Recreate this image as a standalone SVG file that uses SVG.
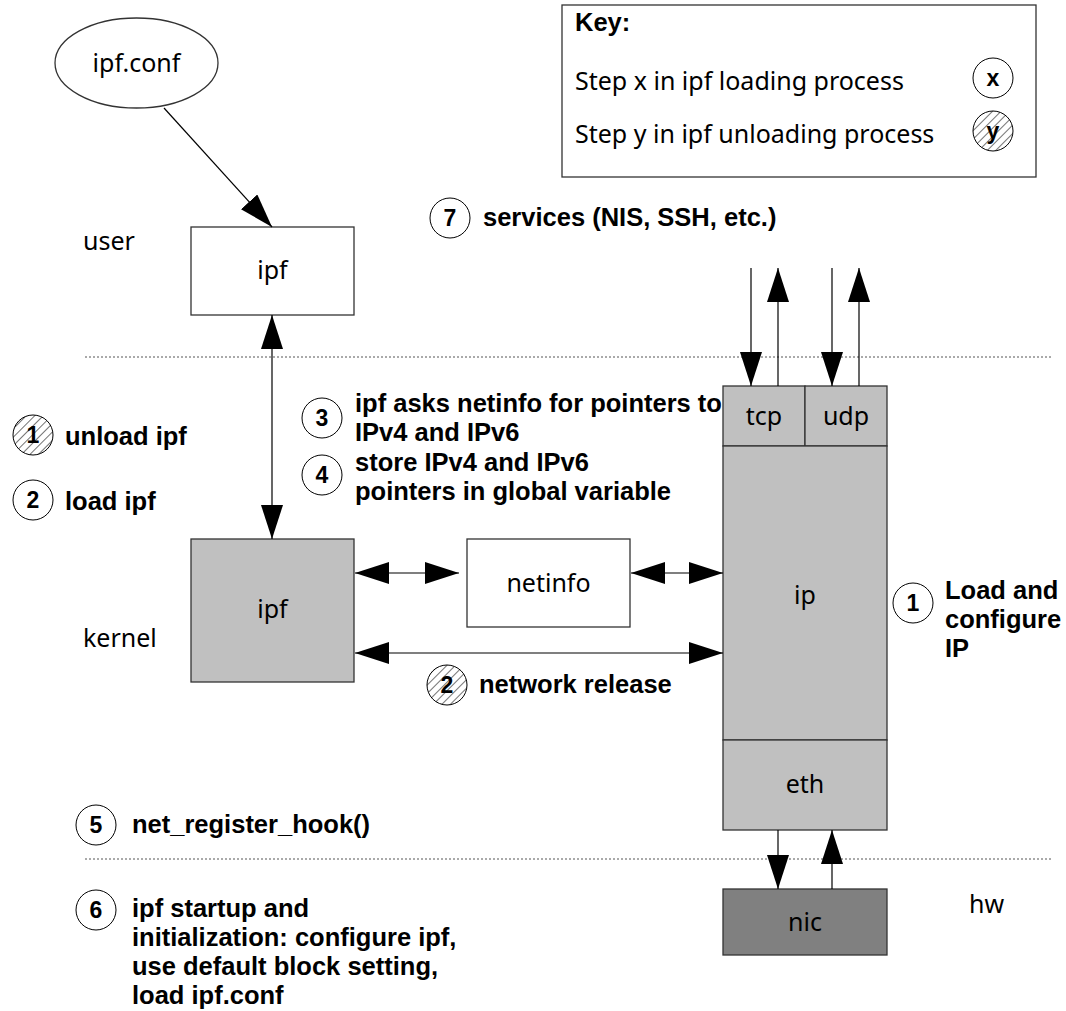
<svg xmlns="http://www.w3.org/2000/svg" width="1066" height="1011" viewBox="0 0 1066 1011">
  <style>
    text { font-family: "Noto Sans", "Open Sans", "DejaVu Sans", sans-serif; fill: #000; }
    .lbl { font-size: 25px; }
    .step { font-family: "Liberation Sans", Arial, sans-serif; font-size: 25.5px; font-weight: bold; }
    .num { font-family: "Liberation Sans", Arial, sans-serif; font-size: 23px; font-weight: bold; text-anchor: middle; }
    .mid { text-anchor: middle; }
    .box { fill: #fff; stroke: #333; stroke-width: 1.3; }
    .grey { fill: #c0c0c0; stroke: #333; stroke-width: 1.3; }
    .dark { fill: #808080; stroke: #333; stroke-width: 1.3; }
    .ring { fill: #fff; stroke: #000; stroke-width: 1; }
    .hatch { fill: url(#hatch); stroke: #000; stroke-width: 1; }
    .conn { stroke: #000; stroke-width: 1.2; fill: none; }
    .sep { stroke: #555; stroke-width: 1; stroke-dasharray: 2 2; }
  </style>
  <defs>
    <marker id="arrow" markerUnits="userSpaceOnUse" markerWidth="34" markerHeight="22" refX="34" refY="11" orient="auto-start-reverse">
      <path d="M0,0 L34,11 L0,22 z" fill="#000"/>
    </marker>
    <pattern id="hatch" patternUnits="userSpaceOnUse" width="6" height="6" patternTransform="rotate(45)">
      <rect width="6" height="6" fill="#fff"/>
      <line x1="0" y1="0" x2="0" y2="6" stroke="#000" stroke-width="1.1"/>
    </pattern>
  </defs>

  <!-- layer separators -->
  <g id="separators">
    <line class="sep" x1="85" y1="357" x2="1052" y2="357"/>
    <line class="sep" x1="85" y1="859" x2="1052" y2="859"/>
  </g>

  <!-- layer labels -->
  <g id="layers">
    <text class="lbl" x="83" y="250">user</text>
    <text class="lbl" x="83" y="647">kernel</text>
    <text class="lbl" x="969" y="913">hw</text>
  </g>

  <!-- legend -->
  <g id="key">
    <rect class="box" x="562" y="5" width="474" height="172"/>
    <text class="step" x="575" y="31">Key:</text>
    <text class="lbl" x="575" y="90">Step x in ipf loading process</text>
    <circle class="ring" cx="993" cy="78" r="20"/>
    <text class="num" x="993" y="86">x</text>
    <text class="lbl" x="575" y="143">Step y in ipf unloading process</text>
    <circle class="hatch" cx="993" cy="131" r="20"/>
    <text class="num" x="993" y="139">y</text>
  </g>

  <g id="ipf-conf">
    <ellipse class="box" cx="136.5" cy="63" rx="81.5" ry="45"/>
    <text class="lbl mid" x="136.5" y="72">ipf.conf</text>
  </g>

  <g id="ipf-user">
    <rect class="box" x="191" y="227" width="163" height="88"/>
    <text class="lbl mid" x="272.5" y="279">ipf</text>
  </g>

  <g id="ipf-kernel">
    <rect class="grey" x="191" y="539" width="163" height="143"/>
    <text class="lbl mid" x="272.5" y="618">ipf</text>
  </g>

  <g id="netinfo">
    <rect class="box" x="467" y="539" width="163" height="88"/>
    <text class="lbl mid" x="548.5" y="592">netinfo</text>
  </g>

  <g id="stack">
    <rect class="grey" x="723" y="386" width="82" height="60"/>
    <text class="lbl mid" x="764" y="425">tcp</text>
    <rect class="grey" x="805" y="386" width="82" height="60"/>
    <text class="lbl mid" x="846" y="425">udp</text>
    <rect class="grey" x="723" y="446" width="164" height="294"/>
    <text class="lbl mid" x="805" y="604">ip</text>
    <rect class="grey" x="723" y="740" width="164" height="90"/>
    <text class="lbl mid" x="805" y="793">eth</text>
  </g>

  <g id="nic">
    <rect class="dark" x="723" y="889" width="164" height="66"/>
    <text class="lbl mid" x="805" y="931">nic</text>
  </g>

  <!-- connectors -->
  <g id="connectors">
    <line class="conn" x1="164" y1="108" x2="272" y2="227" marker-end="url(#arrow)"/>
    <line class="conn" x1="272" y1="315" x2="272" y2="539" marker-start="url(#arrow)" marker-end="url(#arrow)"/>
    <line class="conn" x1="355" y1="573" x2="459" y2="573" marker-start="url(#arrow)" marker-end="url(#arrow)"/>
    <line class="conn" x1="631" y1="573" x2="723" y2="573" marker-start="url(#arrow)" marker-end="url(#arrow)"/>
    <line class="conn" x1="355" y1="653" x2="723" y2="653" marker-start="url(#arrow)" marker-end="url(#arrow)"/>
    <line class="conn" x1="751" y1="268" x2="751" y2="386" marker-end="url(#arrow)"/>
    <line class="conn" x1="778" y1="386" x2="778" y2="268" marker-end="url(#arrow)"/>
    <line class="conn" x1="832" y1="268" x2="832" y2="386" marker-end="url(#arrow)"/>
    <line class="conn" x1="859" y1="386" x2="859" y2="268" marker-end="url(#arrow)"/>
    <line class="conn" x1="778" y1="830" x2="778" y2="889" marker-end="url(#arrow)"/>
    <line class="conn" x1="832" y1="889" x2="832" y2="830" marker-end="url(#arrow)"/>
  </g>

  <!-- step annotations -->
  <g id="step-unload-1">
    <circle class="hatch" cx="33" cy="435" r="20"/>
    <text class="num" x="33" y="443">1</text>
    <text class="step" x="65" y="445">unload ipf</text>
  </g>
  <g id="step-2">
    <circle class="ring" cx="33" cy="500" r="20"/>
    <text class="num" x="33" y="508">2</text>
    <text class="step" x="65" y="510">load ipf</text>
  </g>
  <g id="step-3">
    <circle class="ring" cx="322" cy="418" r="20"/>
    <text class="num" x="322" y="426">3</text>
    <text class="step" x="355" y="412">ipf asks netinfo for pointers to<tspan x="355" dy="29">IPv4 and IPv6</tspan></text>
  </g>
  <g id="step-4">
    <circle class="ring" cx="322" cy="475" r="20"/>
    <text class="num" x="322" y="483">4</text>
    <text class="step" x="355" y="471">store IPv4 and IPv6<tspan x="355" dy="29">pointers in global variable</tspan></text>
  </g>
  <g id="step-unload-2">
    <circle class="hatch" cx="447" cy="685" r="20"/>
    <text class="num" x="447" y="693">2</text>
    <text class="step" x="479" y="693">network release</text>
  </g>
  <g id="step-1">
    <circle class="ring" cx="913" cy="603" r="20"/>
    <text class="num" x="913" y="611">1</text>
    <text class="step" x="945" y="599">Load and<tspan x="945" dy="29">configure</tspan><tspan x="945" dy="29">IP</tspan></text>
  </g>
  <g id="step-5">
    <circle class="ring" cx="96" cy="825" r="20"/>
    <text class="num" x="96" y="833">5</text>
    <text class="step" x="132" y="833">net_register_hook()</text>
  </g>
  <g id="step-6">
    <circle class="ring" cx="96" cy="910" r="20"/>
    <text class="num" x="96" y="918">6</text>
    <text class="step" x="132" y="917">ipf startup and<tspan x="132" dy="29">initialization: configure ipf,</tspan><tspan x="132" dy="29">use default block setting,</tspan><tspan x="132" dy="29">load ipf.conf</tspan></text>
  </g>
  <g id="step-7">
    <circle class="ring" cx="450" cy="218" r="20"/>
    <text class="num" x="450" y="226">7</text>
    <text class="step" x="483" y="226">services (NIS, SSH, etc.)</text>
  </g>
</svg>
